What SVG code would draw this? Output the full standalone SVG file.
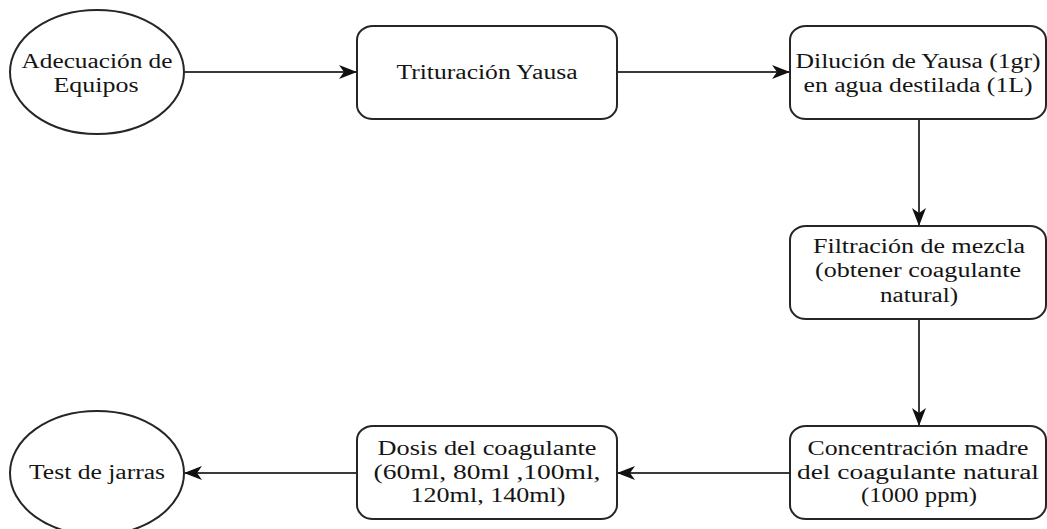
<svg xmlns="http://www.w3.org/2000/svg" width="1047" height="529" viewBox="0 0 1047 529">
<style>
.n{fill:#fff;stroke:#262626;stroke-width:2}
.t{font-family:"Liberation Serif","Times New Roman",serif;font-size:20px;fill:#141414;text-anchor:middle}
.c{stroke:#3a3a3a;stroke-width:2;fill:none}
</style>
<defs>
<marker id="ah" viewBox="0 0 18 14" refX="17" refY="7" markerWidth="18" markerHeight="14" markerUnits="userSpaceOnUse" orient="auto">
<path d="M0,0 L18,7 L0,14 L5,7 Z" fill="#111"/>
</marker>
</defs>
<rect width="1047" height="529" fill="#fff"/>
<g id="connectors">
<line class="c" x1="185" y1="72" x2="356" y2="72" marker-end="url(#ah)"/>
<line class="c" x1="617" y1="72" x2="789" y2="72" marker-end="url(#ah)"/>
<line class="c" x1="919" y1="119" x2="919" y2="225" marker-end="url(#ah)"/>
<line class="c" x1="919" y1="319" x2="919" y2="425" marker-end="url(#ah)"/>
<line class="c" x1="790" y1="473" x2="618" y2="473" marker-end="url(#ah)"/>
<line class="c" x1="357" y1="473" x2="185" y2="473" marker-end="url(#ah)"/>
</g>
<g id="adecuacion">
<ellipse class="n" cx="97" cy="72" rx="87" ry="62"/>
<text class="t" x="97" y="68" textLength="151" lengthAdjust="spacingAndGlyphs">Adecuación de</text>
<text class="t" x="96" y="92" textLength="85" lengthAdjust="spacingAndGlyphs">Equipos</text>
</g>
<g id="trituracion">
<rect class="n" x="357" y="26" width="260" height="93" rx="16" ry="14"/>
<text class="t" x="487" y="79" textLength="181" lengthAdjust="spacingAndGlyphs">Trituración Yausa</text>
</g>
<g id="dilucion">
<rect class="n" x="790" y="26" width="256" height="93" rx="16" ry="14"/>
<text class="t" x="918" y="68" textLength="245" lengthAdjust="spacingAndGlyphs">Dilución de Yausa (1gr)</text>
<text class="t" x="918" y="92" textLength="229" lengthAdjust="spacingAndGlyphs">en agua destilada (1L)</text>
</g>
<g id="filtracion">
<rect class="n" x="790" y="226" width="256" height="93" rx="16" ry="14"/>
<text class="t" x="919" y="253" textLength="212" lengthAdjust="spacingAndGlyphs">Filtración de mezcla</text>
<text class="t" x="918" y="277" textLength="206" lengthAdjust="spacingAndGlyphs">(obtener coagulante</text>
<text class="t" x="919" y="302" textLength="78" lengthAdjust="spacingAndGlyphs">natural)</text>
</g>
<g id="concentracion">
<rect class="n" x="790" y="426" width="256" height="93" rx="16" ry="14"/>
<text class="t" x="918" y="455" textLength="221" lengthAdjust="spacingAndGlyphs">Concentración madre</text>
<text class="t" x="918" y="479" textLength="242" lengthAdjust="spacingAndGlyphs">del coagulante natural</text>
<text class="t" x="919" y="502" textLength="116" lengthAdjust="spacingAndGlyphs">(1000 ppm)</text>
</g>
<g id="dosis">
<rect class="n" x="357" y="426" width="260" height="93" rx="16" ry="14"/>
<text class="t" x="487" y="455" textLength="219" lengthAdjust="spacingAndGlyphs">Dosis del coagulante</text>
<text class="t" x="487" y="479" textLength="227" lengthAdjust="spacingAndGlyphs">(60ml, 80ml ,100ml,</text>
<text class="t" x="488" y="502" textLength="155" lengthAdjust="spacingAndGlyphs">120ml, 140ml)</text>
</g>
<g id="test">
<ellipse class="n" cx="97" cy="473" rx="87" ry="62"/>
<text class="t" x="97" y="479" textLength="136" lengthAdjust="spacingAndGlyphs">Test de jarras</text>
</g>
</svg>
